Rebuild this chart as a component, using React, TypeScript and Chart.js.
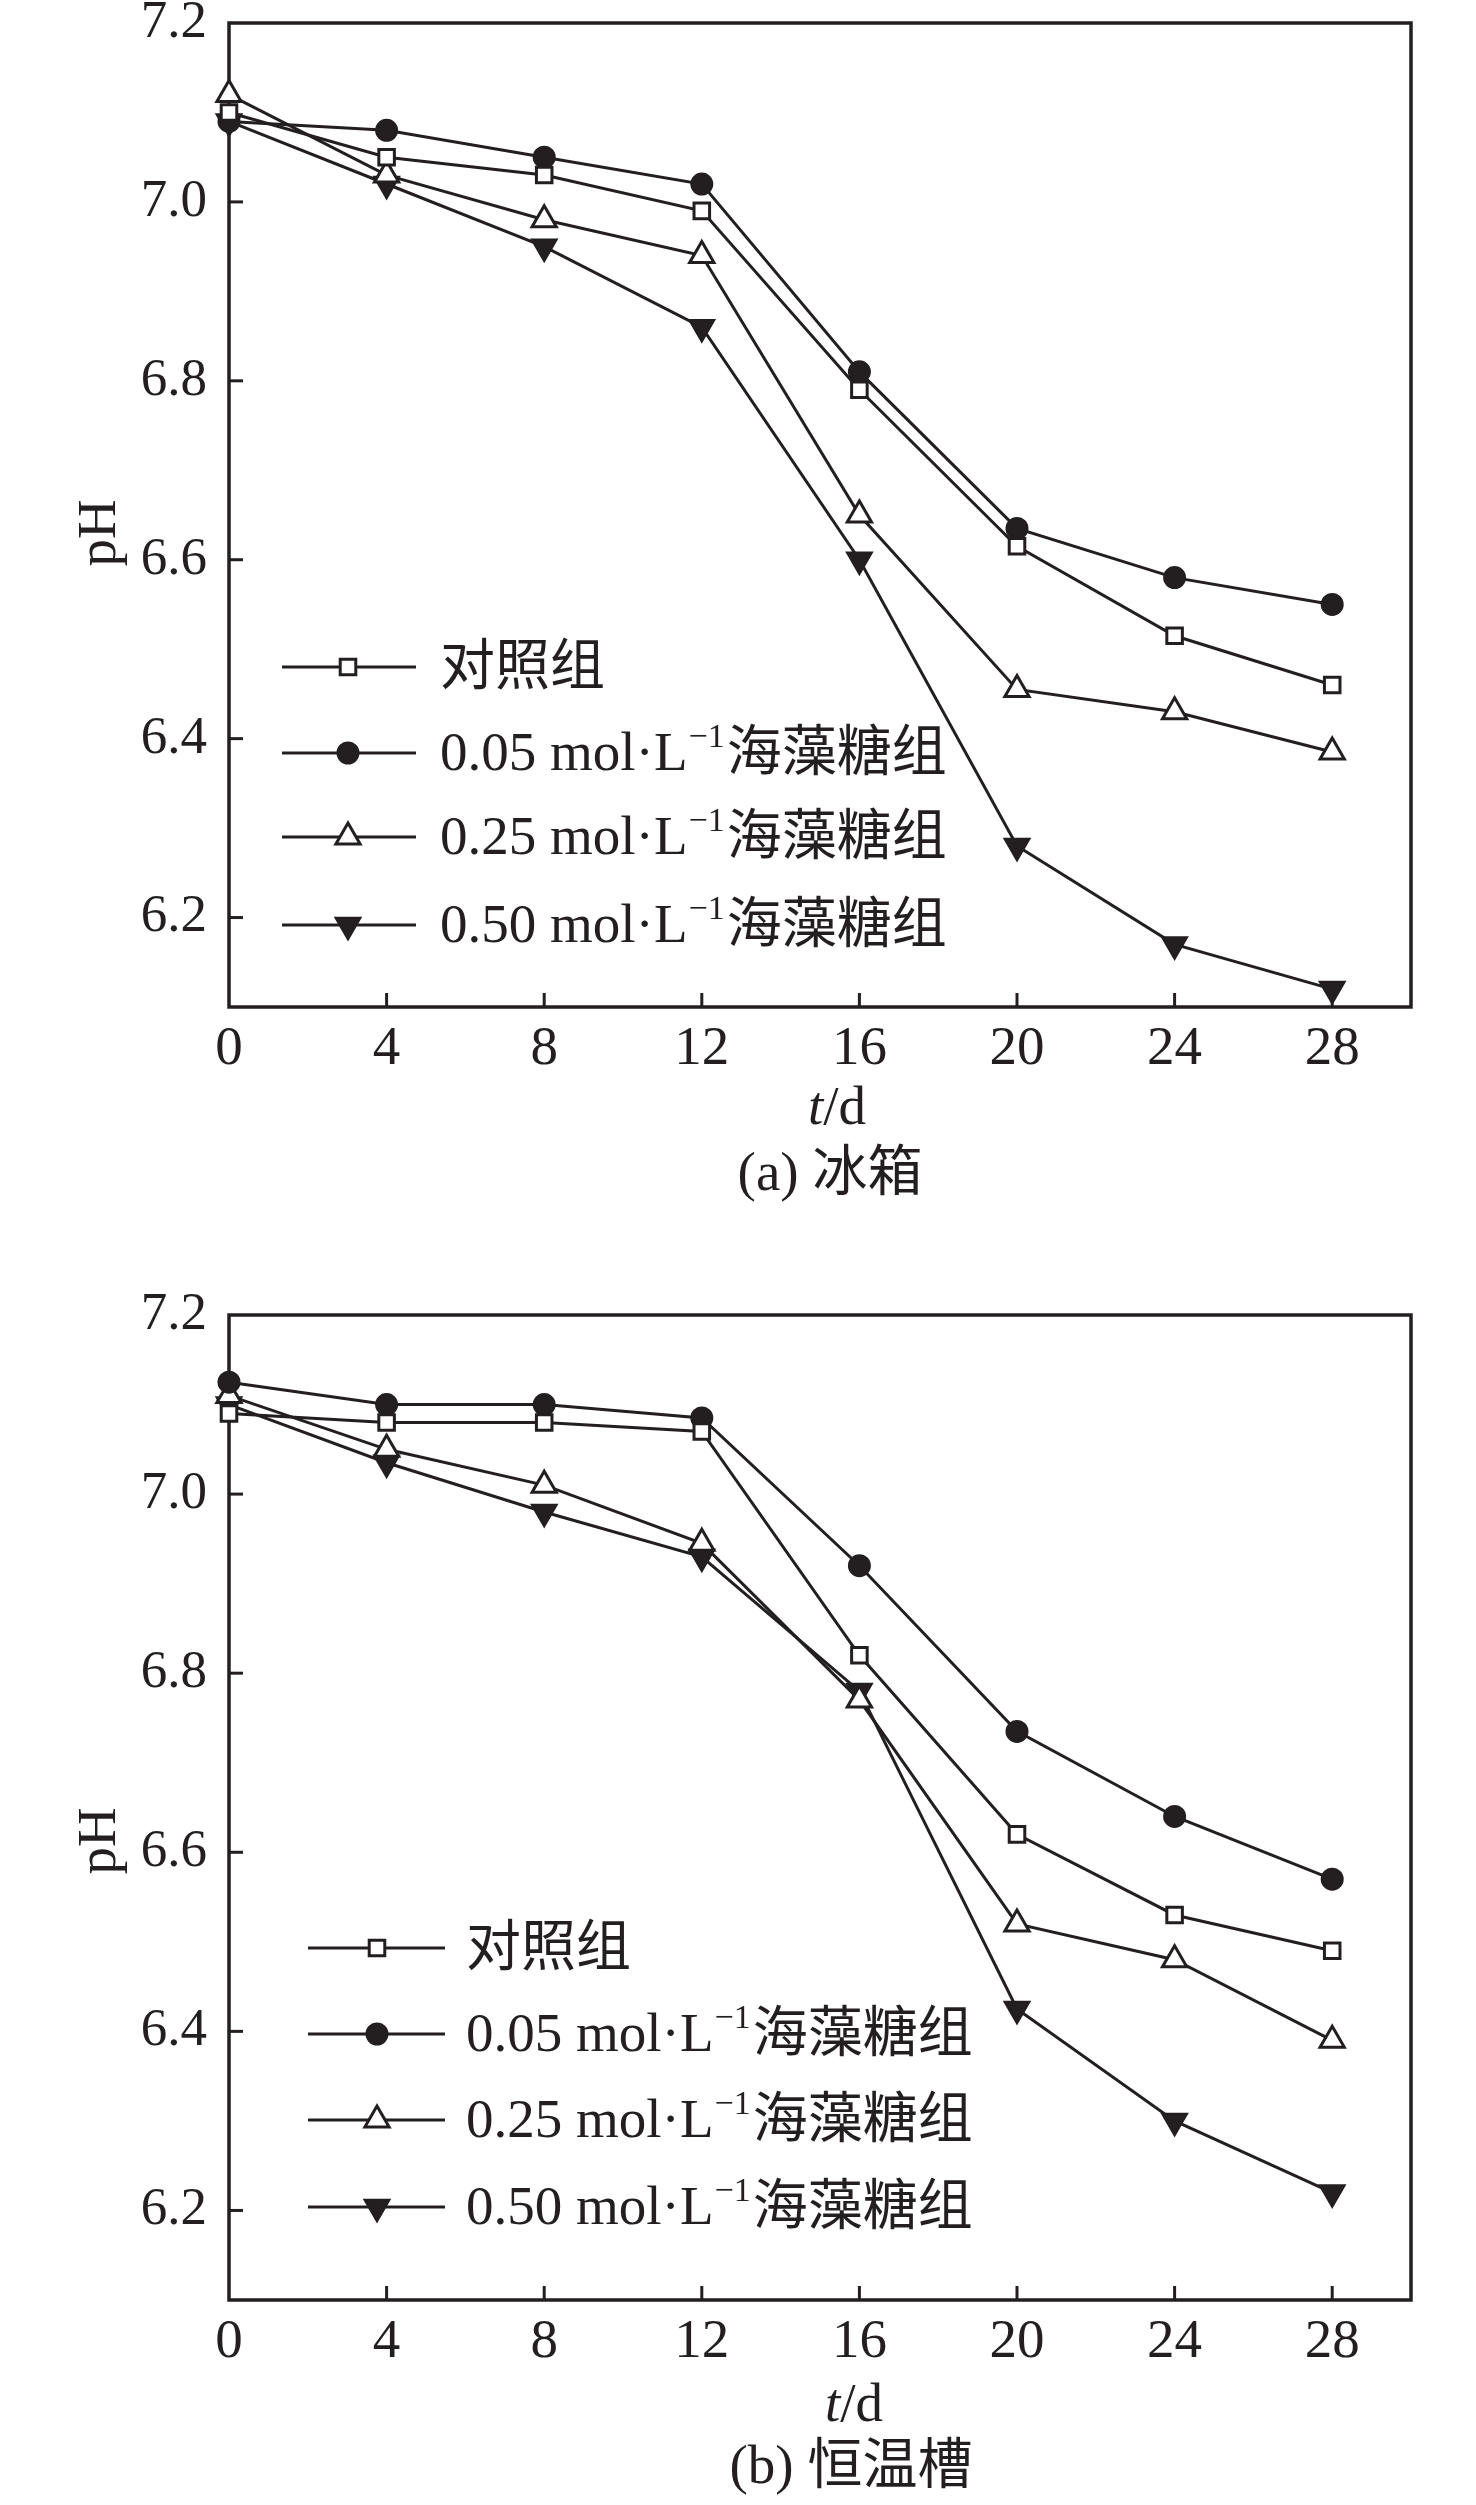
import { useEffect, useRef } from 'react'
import { Chart, LineController, LineElement, PointElement, LinearScale } from 'chart.js'
import { drawPoint } from 'chart.js/helpers'

Chart.register(LineController, LineElement, PointElement, LinearScale)

// sampling days (t/d) and axis ticks
const DAYS = [0, 4, 8, 12, 16, 20, 24, 28]
const X_TICKS = [0, 4, 8, 12, 16, 20, 24, 28]
const Y_TICKS = [6.2, 6.4, 6.6, 6.8, 7.0, 7.2]

const SERIES_NAMES = ['对照组', '0.05 mol·L⁻¹海藻糖组', '0.25 mol·L⁻¹海藻糖组', '0.50 mol·L⁻¹海藻糖组']

// (a) 冰箱
const FRIDGE_CONTROL = [7.10, 7.05, 7.03, 6.99, 6.79, 6.615, 6.515, 6.46]
const FRIDGE_T005 = [7.09, 7.08, 7.05, 7.02, 6.81, 6.635, 6.58, 6.55]
const FRIDGE_T025 = [7.12, 7.03, 6.98, 6.94, 6.65, 6.455, 6.43, 6.385]
const FRIDGE_T050 = [7.09, 7.02, 6.95, 6.86, 6.60, 6.28, 6.17, 6.12]

// (b) 恒温槽
const BATH_CONTROL = [7.09, 7.08, 7.08, 7.07, 6.82, 6.62, 6.53, 6.49]
const BATH_T005 = [7.125, 7.10, 7.10, 7.085, 6.92, 6.735, 6.64, 6.57]
const BATH_T025 = [7.11, 7.05, 7.01, 6.945, 6.77, 6.52, 6.48, 6.39]
const BATH_T050 = [7.10, 7.035, 6.98, 6.93, 6.78, 6.425, 6.30, 6.22]

const INK = '#231f20'
const SERIF = '"Liberation Serif", "Noto Sans CJK SC", serif'

const MARKERS = [
  { pointStyle: 'rect', radius: 11, rotation: 0, fill: '#fff', borderWidth: 3 },
  { pointStyle: 'circle', radius: 10.5, rotation: 0, fill: INK, borderWidth: 2 },
  { pointStyle: 'triangle', radius: 14, rotation: 0, fill: '#fff', borderWidth: 3 },
  { pointStyle: 'triangle', radius: 14.5, rotation: 180, fill: INK, borderWidth: 2 },
]

type Panel = {
  series: number[][]
  caption: string
  height: number
  areaTop: number
  xAxisHeight: number
  legendRows: number[]
  legendLine: [number, number]
  legendMarkerX: number
  legendTextX: number
  xTitle: [number, number]
  captionPos: [number, number]
  yTitleY: number
}

const PANELS: Panel[] = [
  {
    series: [FRIDGE_CONTROL, FRIDGE_T005, FRIDGE_T025, FRIDGE_T050],
    caption: '(a) 冰箱',
    height: 1250, areaTop: 23, xAxisHeight: 243,
    legendRows: [667, 753, 837, 925], legendLine: [282, 416], legendMarkerX: 348, legendTextX: 440,
    xTitle: [837, 1110], captionPos: [830, 1176], yTitleY: 533,
  },
  {
    series: [BATH_CONTROL, BATH_T005, BATH_T025, BATH_T050],
    caption: '(b) 恒温槽',
    height: 1255, areaTop: 65, xAxisHeight: 205,
    legendRows: [698, 784, 870, 957], legendLine: [308, 445], legendMarkerX: 377, legendTextX: 466,
    xTitle: [854, 1157], captionPos: [851, 1219], yTitleY: 591,
  },
]

function drawRich(ctx: CanvasRenderingContext2D, label: string, x: number, y: number) {
  const parts = label.split('⁻¹')
  ctx.textAlign = 'left'
  ctx.textBaseline = 'middle'
  let cx = x
  parts.forEach((p, i) => {
    ctx.font = `55px ${SERIF}`
    ctx.fillText(p, cx, y)
    cx += ctx.measureText(p).width
    if (i < parts.length - 1) {
      ctx.font = `34px ${SERIF}`
      ctx.fillText('−1', cx + 1, y - 18)
      cx += ctx.measureText('−1').width + 3
    }
  })
}

const decor = {
  id: 'decor',
  beforeDatasetsDraw(chart: any) {
    const { ctx, chartArea: a, scales } = chart
    ctx.save()
    ctx.strokeStyle = INK
    ctx.lineWidth = 3
    X_TICKS.slice(1).forEach(v => {
      const px = scales.x.getPixelForValue(v)
      ctx.beginPath(); ctx.moveTo(px, a.bottom); ctx.lineTo(px, a.bottom - 14); ctx.stroke()
    })
    Y_TICKS.slice(0, -1).forEach(v => {
      const py = scales.y.getPixelForValue(v)
      ctx.beginPath(); ctx.moveTo(a.left, py); ctx.lineTo(a.left + 14, py); ctx.stroke()
    })
    ctx.lineWidth = 3.5
    ctx.strokeRect(a.left, a.top, a.right - a.left, a.bottom - a.top)
    ctx.restore()
  },
  afterDraw(chart: any, _a: any, opts: any) {
    const p: Panel = opts.panel
    const { ctx } = chart
    ctx.save()
    ctx.fillStyle = INK
    ctx.strokeStyle = INK
    // legend
    SERIES_NAMES.forEach((name, i) => {
      const y = p.legendRows[i]
      const m = MARKERS[i]
      ctx.lineWidth = 3
      ctx.beginPath(); ctx.moveTo(p.legendLine[0], y); ctx.lineTo(p.legendLine[1], y); ctx.stroke()
      ctx.fillStyle = m.fill
      ctx.lineWidth = m.borderWidth
      drawPoint(ctx, { pointStyle: m.pointStyle as any, radius: m.radius, rotation: m.rotation, borderWidth: m.borderWidth }, p.legendMarkerX, y)
      ctx.fillStyle = INK
      drawRich(ctx, name, p.legendTextX, y + 3)
    })
    // x title t/d
    ctx.textBaseline = 'middle'
    ctx.textAlign = 'left'
    ctx.font = `italic 55px ${SERIF}`
    const wt = ctx.measureText('t').width
    ctx.font = `55px ${SERIF}`
    const wd = ctx.measureText('/d').width
    const sx = p.xTitle[0] - (wt + wd) / 2
    ctx.font = `italic 55px ${SERIF}`
    ctx.fillText('t', sx, p.xTitle[1])
    ctx.font = `55px ${SERIF}`
    ctx.fillText('/d', sx + wt, p.xTitle[1])
    // caption
    ctx.textAlign = 'center'
    ctx.fillText(p.caption, p.captionPos[0], p.captionPos[1])
    // y title
    ctx.translate(101, p.yTitleY)
    ctx.rotate(-Math.PI / 2)
    ctx.fillText('pH', 0, 0)
    ctx.restore()
  },
}

function PhChart({ panel }: { panel: Panel }) {
  const canvasRef = useRef<HTMLCanvasElement>(null)

  useEffect(() => {
    if (!canvasRef.current) return
    const chart = new Chart(canvasRef.current, {
      type: 'line',
      data: {
        datasets: panel.series.map((vals, i) => ({
          label: SERIES_NAMES[i],
          data: DAYS.map((d, j) => ({ x: d, y: vals[j] })),
          borderColor: INK,
          borderWidth: 3,
          pointStyle: MARKERS[i].pointStyle as any,
          pointRadius: MARKERS[i].radius,
          pointRotation: MARKERS[i].rotation,
          pointBackgroundColor: MARKERS[i].fill,
          pointBorderColor: INK,
          pointBorderWidth: MARKERS[i].borderWidth,
          tension: 0,
          clip: false as any,
        })),
      },
      options: {
        animation: false,
        responsive: true,
        maintainAspectRatio: false,
        events: [],
        layout: { padding: { top: panel.areaTop, right: 65, left: 0, bottom: 0 } },
        plugins: { decor: { panel } } as any,
        scales: {
          x: {
            type: 'linear', min: 0, max: 30,
            afterBuildTicks: (s: any) => { s.ticks = X_TICKS.map(value => ({ value })) },
            afterFit: (s: any) => { s.height = panel.xAxisHeight; s.paddingLeft = 0; s.paddingRight = 0 },
            grid: { display: false, drawTicks: false },
            border: { display: false },
            ticks: { padding: 10, color: INK, font: { family: SERIF, size: 55 }, maxRotation: 0, autoSkip: false },
          },
          y: {
            type: 'linear', min: 6.1, max: 7.2,
            afterBuildTicks: (s: any) => { s.ticks = Y_TICKS.map(value => ({ value })) },
            afterFit: (s: any) => { s.width = 229; s.paddingTop = 0; s.paddingBottom = 0 },
            grid: { display: false, drawTicks: false },
            border: { display: false },
            ticks: { padding: 22, color: INK, font: { family: SERIF, size: 53 }, callback: (v: any) => Number(v).toFixed(1) },
          },
        },
      },
      plugins: [decor],
    })
    return () => chart.destroy()
  }, [panel])

  return (
    <div style={{ position: 'relative', width: 1476, height: panel.height }}>
      <canvas ref={canvasRef} />
    </div>
  )
}

export default function App() {
  return (
    <div style={{ position: 'absolute', left: 0, top: 0, width: 1476, background: '#fff' }}>
      {PANELS.map((p, i) => <PhChart key={i} panel={p} />)}
    </div>
  )
}
